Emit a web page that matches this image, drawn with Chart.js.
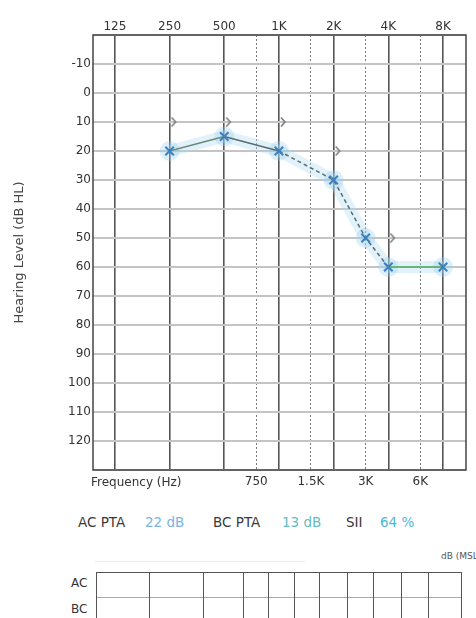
<!DOCTYPE html>
<html>
<head>
<meta charset="utf-8">
<script src="https://cdn.jsdelivr.net/npm/chart.js@4.4.1/dist/chart.umd.min.js"></script>
<style>
html,body{margin:0;padding:0;background:#fff;width:476px;height:618px;overflow:hidden;font-family:"DejaVu Sans",sans-serif;}
#wrap{position:absolute;left:0;top:0;width:476px;height:500px;}
.pt{position:absolute;top:513px;font-size:13.5px;line-height:18px;color:#3a3a3a;white-space:nowrap;}
.v1{color:#7ab3e6;}
.v2{color:#63bcc0;}
.v3{color:#4fb5d6;}
#unit{position:absolute;left:441px;top:551px;font-size:9px;color:#555;white-space:nowrap;}
#faint{position:absolute;left:95px;top:561px;width:210px;border-top:1px solid #ececec;}
#tbl{position:absolute;left:96px;top:572px;width:366px;height:70px;border:1.5px solid #555;box-sizing:border-box;}
#tbl .h{position:absolute;left:0;right:0;top:24px;border-top:1.5px solid #aaa;}
#tbl .v{position:absolute;top:0;bottom:0;border-left:1.5px solid #555;}
.rl{position:absolute;font-size:12px;color:#333;}
</style>
</head>
<body>
<div id="wrap"><canvas id="c" width="476" height="500"></canvas></div>
<div id="ptaRow"></div>
<div id="unit">dB (MSL)</div>
<div id="faint"></div>
<div id="tbl"></div>
<div class="rl" style="left:71px;top:576px;">AC</div>
<div class="rl" style="left:71px;top:602px;">BC</div>
<script>
// ---- data ----
const topFreqs = [125, 250, 500, 1000, 2000, 4000, 8000];
const topLabels = ['125', '250', '500', '1K', '2K', '4K', '8K'];
const midFreqs = [750, 1500, 3000, 6000];
const midLabels = ['750', '1.5K', '3K', '6K'];
const levelTicks = [-10, 0, 10, 20, 30, 40, 50, 60, 70, 80, 90, 100, 110, 120];
const acFreqs = [250, 500, 1000, 2000, 3000, 4000, 8000];
const acLevels = [20, 15, 20, 30, 50, 60, 60];
const bcFreqs = [250, 500, 1000, 2000, 4000];
const bcLevels = [10, 10, 10, 20, 50];
const ptaNames = ['AC PTA', 'BC PTA', 'SII'];
const ptaValues = ['22 dB', '13 dB', '64 %'];

// ---- helpers ----
const oct = f => Math.log2(f / 125);
const acPts = acFreqs.map((f, i) => ({x: oct(f), y: acLevels[i]}));
const bcPts = bcFreqs.map((f, i) => ({x: oct(f), y: bcLevels[i]}));

// BC ">" symbol drawn to the right of its point
const bcGlyph = document.createElement('canvas');
bcGlyph.width = 16; bcGlyph.height = 16;
(function(){
  const g = bcGlyph.getContext('2d');
  g.strokeStyle = '#7a7a7a'; g.lineWidth = 1.5;
  g.beginPath(); g.moveTo(10, 3.5); g.lineTo(14, 8); g.lineTo(10, 12.5); g.stroke();
})();

const frame = {
  id: 'frame',
  afterDraw(chart) {
    const {ctx, chartArea: a} = chart;
    ctx.save();
    ctx.strokeStyle = '#444'; ctx.lineWidth = 1.5;
    ctx.strokeRect(a.left, a.top, a.right - a.left, a.bottom - a.top);
    ctx.fillStyle = '#333';
    ctx.font = '12px "DejaVu Sans"';
    ctx.textBaseline = 'middle';
    ctx.textAlign = 'left';
    ctx.fillText('Frequency (Hz)', a.left - 2, a.bottom + 13);
    ctx.restore();
  }
};

const tickFont = {family: '"DejaVu Sans"', size: 12};

new Chart(document.getElementById('c'), {
  type: 'line',
  data: {
    datasets: [
      {
        label: 'AC halo', data: acPts, xAxisID: 'x', yAxisID: 'y', order: 5,
        borderColor: 'rgba(170,218,242,0.35)', borderWidth: 12,
        pointRadius: 10, pointBackgroundColor: 'rgba(150,205,240,0.32)', pointBorderWidth: 0
      },
      {
        label: 'AC', data: acPts, xAxisID: 'x', yAxisID: 'y', order: 1,
        borderWidth: 1.5,
        segment: {
          borderColor: c => c.p0DataIndex === 5 ? '#4fae5a' : (c.p0DataIndex === 0 ? '#6d8a7c' : '#5d6b70'),
          borderDash: c => (c.p0DataIndex >= 2 && c.p0DataIndex <= 4) ? [4, 3] : []
        },
        pointStyle: 'crossRot', pointRadius: 6,
        pointBorderColor: '#3a80c2', pointBorderWidth: 2
      },
      {
        label: 'BC', data: bcPts, xAxisID: 'x', yAxisID: 'y', order: 2,
        showLine: false, pointStyle: bcGlyph
      }
    ]
  },
  options: {
    responsive: false,
    animation: false,
    layout: {padding: {left: 0, right: 6, top: 0, bottom: 0}},
    plugins: {legend: {display: false}, tooltip: {enabled: false}},
    scales: {
      x: {
        type: 'linear', position: 'top', min: -0.4, max: 6.42,
        afterBuildTicks: s => { s.ticks = topFreqs.map(f => ({value: oct(f)})); },
        afterFit: s => { s.height = 35; },
        ticks: {callback: (v, i) => topLabels[i], autoSkip: false, maxRotation: 0, padding: 1, color: '#333', font: tickFont},
        grid: {color: '#555', lineWidth: 1.6, drawTicks: false},
        border: {display: false}
      },
      x2: {
        type: 'linear', position: 'bottom', min: -0.4, max: 6.42,
        afterBuildTicks: s => { s.ticks = midFreqs.map(f => ({value: oct(f)})); },
        afterFit: s => { s.height = 30; },
        ticks: {callback: (v, i) => midLabels[i], autoSkip: false, maxRotation: 0, padding: 5, color: '#333', font: tickFont},
        grid: {color: '#777', lineWidth: 1, drawTicks: false},
        border: {display: false, dash: [2, 2]}
      },
      y: {
        type: 'linear', position: 'left', reverse: true, min: -20, max: 130,
        afterFit: s => { s.width = 93; },
        ticks: {stepSize: 10, callback: v => levelTicks.includes(v) ? String(v) : '', padding: 2, color: '#333', font: tickFont},
        grid: {color: '#c4c4c4', lineWidth: 2, drawTicks: false},
        border: {display: false},
        title: {display: true, text: 'Hearing Level (dB HL)', color: '#444', font: {family: '"DejaVu Sans"', size: 13}, padding: {top: 12, bottom: 0}}
      }
    }
  },
  plugins: [frame]
});

// PTA summary line
const ptaX = [[78, 145], [213, 282], [346, 380]];
const row = document.getElementById('ptaRow');
ptaNames.forEach((n, i) => {
  const a = document.createElement('div'); a.className = 'pt'; a.textContent = n; a.style.left = ptaX[i][0] + 'px'; row.appendChild(a);
  const b = document.createElement('div'); b.className = 'pt v' + (i + 1); b.textContent = ptaValues[i]; b.style.left = ptaX[i][1] + 'px'; row.appendChild(b);
});

// empty masking table grid
const tbl = document.getElementById('tbl');
tbl.appendChild(Object.assign(document.createElement('div'), {className: 'h'}));
[52, 106, 146, 171, 197, 222, 250, 276, 304, 331].forEach(x => {
  const d = document.createElement('div'); d.className = 'v'; d.style.left = x + 'px'; tbl.appendChild(d);
});
</script>
</body>
</html>
